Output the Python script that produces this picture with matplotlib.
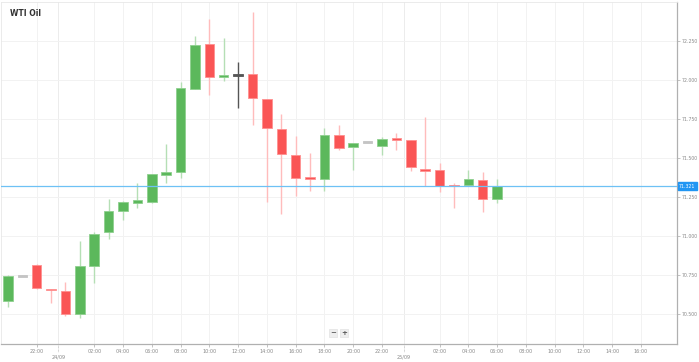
import matplotlib as mpl
mpl.use('Agg')
import matplotlib.pyplot as plt
import matplotlib.transforms as mtransforms
import numpy as np

# hourly candles, WTI Oil, from 23/09 20:00
opens = [70.585, 70.746, 70.816, 70.662, 70.649, 70.498, 70.810, 71.028, 71.162, 71.213,
         71.220, 71.393, 71.412, 71.944, 72.233, 72.021, 72.034, 72.040, 71.880, 71.688,
         71.521, 71.380, 71.367, 71.649, 71.572, 71.604, 71.579, 71.630, 71.617, 71.431,
         71.425, 71.329, 71.329, 71.361, 71.239]
highs = [70.752, 70.748, 70.822, 70.664, 70.707, 70.970, 71.028, 71.239, 71.226, 71.342,
         71.400, 71.592, 71.989, 72.284, 72.393, 72.271, 72.117, 72.438, 71.880, 71.784,
         71.643, 71.534, 71.694, 71.713, 71.600, 71.605, 71.637, 71.662, 71.620, 71.765,
         71.470, 71.342, 71.425, 71.412, 71.367]
lows = [70.547, 70.744, 70.662, 70.573, 70.485, 70.476, 70.701, 70.983, 71.105, 71.181,
        71.213, 71.342, 71.374, 71.944, 71.906, 71.996, 71.822, 71.713, 71.220, 71.143,
        71.258, 71.290, 71.290, 71.553, 71.425, 71.603, 71.521, 71.553, 71.419, 71.322,
        71.284, 71.181, 71.329, 71.156, 71.213]
closes = [70.746, 70.746, 70.669, 70.653, 70.498, 70.810, 71.015, 71.162, 71.220, 71.233,
          71.399, 71.412, 71.951, 72.226, 72.021, 72.031, 72.034, 71.887, 71.694, 71.528,
          71.374, 71.370, 71.649, 71.566, 71.598, 71.604, 71.624, 71.617, 71.444, 71.419,
          71.322, 71.322, 71.367, 71.239, 71.321]
last_price = 71.321

time_ticks = [2, 6, 8, 10, 12, 14, 16, 18, 20, 22, 24, 26, 30, 32, 34, 36, 38, 40, 42, 44]
time_labels = ['22:00', '02:00', '04:00', '06:00', '08:00', '10:00', '12:00', '14:00',
               '16:00', '18:00', '20:00', '22:00', '02:00', '04:00', '06:00', '08:00',
               '10:00', '12:00', '14:00', '16:00']
date_ticks = [3.5, 27.5]
date_labels = ['24/09', '25/09']
y_ticks = [70.5, 70.75, 71.0, 71.25, 71.5, 71.75, 72.0, 72.25]

green = '#5cb85c'
red = '#fa5555'

fig = plt.figure(figsize=(6.99, 3.62), dpi=100)
ax = fig.add_axes([0.001, 0.0497, 0.9675, 0.946])

x = np.arange(len(opens))
o = np.array(opens)
c = np.array(closes)
body_col = []
wick_col = []
edge_col = []
for i in range(len(o)):
    if abs(c[i] - o[i]) < 1e-6:
        if i == 16:
            body_col.append('#555555'); wick_col.append('#555555'); edge_col.append('#555555')
        else:
            body_col.append('#c4c4c4'); wick_col.append('#dddddd'); edge_col.append('#c4c4c4')
    elif c[i] > o[i]:
        body_col.append(green); wick_col.append('#b5dfb5'); edge_col.append('#8fd08f')
    else:
        body_col.append(red); wick_col.append('#ffbcbc'); edge_col.append('#ff9090')

ax.vlines(x, lows, highs, colors=wick_col, linewidth=1.0, zorder=2)
heights = np.maximum(np.abs(c - o), 0.012)
bottoms = np.minimum(o, c) - np.where(np.abs(c - o) < 0.012, (0.012 - np.abs(c - o)) / 2, 0)
ax.bar(x, heights, bottom=bottoms, width=0.66, color=body_col, edgecolor=edge_col,
       linewidth=0.6, zorder=3)

ax.axhline(last_price, color='#6ec1f5', linewidth=0.9, zorder=4)

ax.set_xlim(-0.5, 46.5)
ax.set_ylim(70.308, 72.506)

ax.yaxis.tick_right()
ax.set_yticks(y_ticks)
ax.set_yticklabels(['%.3f' % v for v in y_ticks], fontsize=3.3, color='#888888')
ax.set_xticks(time_ticks)
ax.set_xticklabels(time_labels, fontsize=3.5, color='#888888')
ax.tick_params(axis='both', length=2, width=0.5, color='#aaaaaa', pad=1.5)
ax.grid(color='#f2f2f2', linewidth=0.7, zorder=0)

for pos, lab in zip(date_ticks, date_labels):
    ax.axvline(pos, color='#ececec', linewidth=0.7, zorder=1)
    ax.plot([pos, pos], [0, -0.024], transform=ax.get_xaxis_transform(), color='#aaaaaa',
            linewidth=0.5, linestyle=(0, (1, 1)), clip_on=False)
    ax.text(pos, -0.037, lab, transform=ax.get_xaxis_transform(), fontsize=3.5,
            color='#888888', ha='center', va='center')

for side in ['left', 'top']:
    ax.spines[side].set_color('#e8e8e8')
    ax.spines[side].set_linewidth(0.6)
for side in ['right', 'bottom']:
    ax.spines[side].set_color('#b0b0b0')
    ax.spines[side].set_linewidth(0.9)

trans = mtransforms.blended_transform_factory(ax.transAxes, ax.transData)
ax.text(1.003, last_price, '%.3f' % last_price, transform=trans, fontsize=3.3,
        color='white', ha='left', va='center', zorder=6, clip_on=False,
        bbox=dict(boxstyle='square,pad=0.3', facecolor='#2196f3', edgecolor='#2196f3'))

ax.text(0.014, 0.965, 'WTI Oil', transform=ax.transAxes, fontsize=5.5, fontweight='bold',
        color='#333333', ha='left', va='center')

for xp, s in [(0.492, '−'), (0.508, '+')]:
    ax.text(xp, 0.032, s, transform=ax.transAxes, fontsize=5, fontweight='bold',
            color='#555555', ha='center', va='center',
            bbox=dict(boxstyle='square,pad=0.15', facecolor='#eeeeee', edgecolor='#dddddd',
                      linewidth=0.4))

fig.savefig('out.png', dpi=100)
